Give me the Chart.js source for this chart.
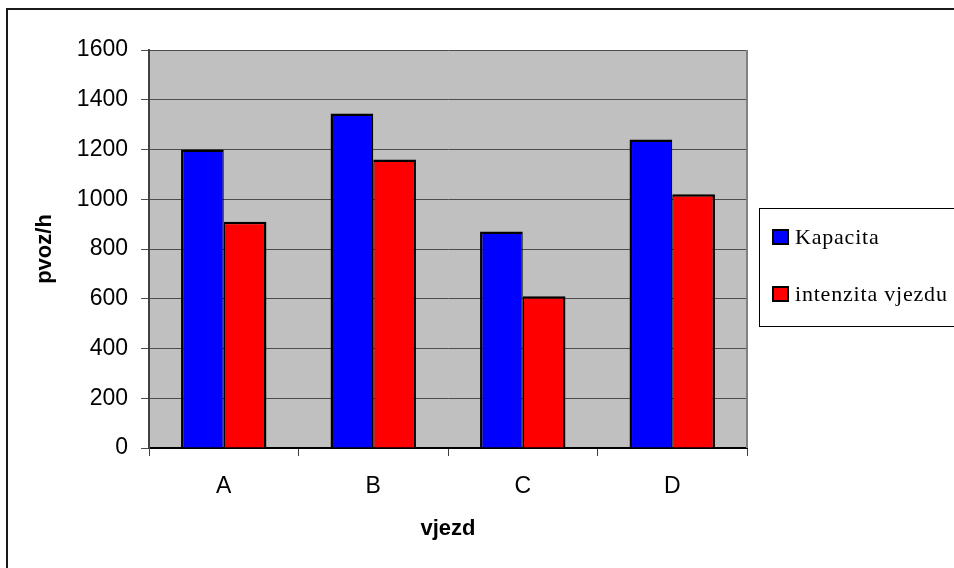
<!DOCTYPE html>
<html>
<head>
<meta charset="utf-8">
<script src="https://cdn.jsdelivr.net/npm/chart.js@4.4.1/dist/chart.umd.min.js"></script>
<style>
  html, body { margin: 0; padding: 0; background: #ffffff; }
  #wrap { width: 954px; height: 568px; position: relative; }
</style>
</head>
<body>
<div id="wrap"><canvas id="c" width="954" height="568"></canvas></div>
<script>
// Entry approaches (vjezd)
const categories = ['A', 'B', 'C', 'D'];
// Capacity per approach, pvoz/h
const kapacita = [1200, 1345, 870, 1240];
// Entry flow intensity per approach, pvoz/h
const intenzita = [910, 1160, 610, 1020];
const seriesNames = ['Kapacita', 'intenzita vjezdu'];
const yTicks = { min: 0, max: 1600, step: 200 };

const tickFont = { family: 'Liberation Sans, Arial, sans-serif', size: 23 };
const titleFont = { family: 'Liberation Sans, Arial, sans-serif', size: 22, weight: 'bold' };

// Gray plot background, plot frame and outer chart border
const framePlugin = {
  id: 'frame',
  beforeDraw(chart) {
    const { ctx, chartArea: a } = chart;
    ctx.save();
    ctx.fillStyle = '#C0C0C0';
    ctx.fillRect(a.left, a.top, a.right - a.left, a.bottom - a.top);
    ctx.restore();
  },
  afterDatasetsDraw(chart) {
    const { ctx, chartArea: a } = chart;
    ctx.save();
    ctx.strokeStyle = '#808080';
    ctx.lineWidth = 2;
    ctx.beginPath();
    ctx.moveTo(a.right, a.top);
    ctx.lineTo(a.right, a.bottom);
    ctx.stroke();
    ctx.restore();
  },
  afterDraw(chart) {
    const { ctx, width, height } = chart;
    ctx.save();
    ctx.strokeStyle = '#1a1a1a';
    ctx.lineWidth = 2;
    ctx.beginPath();
    ctx.moveTo(7, height);
    ctx.lineTo(7, 9);
    ctx.lineTo(width, 9);
    ctx.stroke();
    ctx.restore();
  }
};

// Boxed legend at the right side
const boxLegend = {
  id: 'boxLegend',
  afterDraw(chart) {
    const { ctx } = chart;
    const x0 = 759, y0 = 208, y1 = 326;
    ctx.save();
    ctx.fillStyle = '#ffffff';
    ctx.fillRect(x0, y0, chart.width - x0 + 2, y1 - y0);
    ctx.strokeStyle = '#000000';
    ctx.lineWidth = 1;
    ctx.strokeRect(x0 + 0.5, y0 + 0.5, chart.width - x0 + 4, y1 - y0);
    const rows = [237, 294];
    ctx.font = '22px "Liberation Serif", "Times New Roman", serif';
    if ('letterSpacing' in ctx) ctx.letterSpacing = '0.8px';
    ctx.textBaseline = 'middle';
    chart.data.datasets.forEach((ds, i) => {
      const cy = rows[i];
      ctx.fillStyle = ds.backgroundColor;
      ctx.fillRect(773, cy - 7, 15, 14);
      ctx.strokeStyle = '#000000';
      ctx.lineWidth = 2;
      ctx.strokeRect(773, cy - 7, 15, 14);
      ctx.fillStyle = '#000000';
      ctx.fillText(ds.label, 795, cy + 1);
    });
    ctx.restore();
  }
};

new Chart(document.getElementById('c'), {
  type: 'bar',
  data: {
    labels: categories,
    datasets: [
      { label: seriesNames[0], data: kapacita, backgroundColor: '#0000FF', borderColor: '#000000',
        borderWidth: { top: 2.5, left: 2.5, right: 1.25, bottom: 0 }, borderSkipped: false },
      { label: seriesNames[1], data: intenzita, backgroundColor: '#FF0000', borderColor: '#000000',
        borderWidth: { top: 2.5, left: 1.25, right: 2.5, bottom: 0 }, borderSkipped: false }
    ]
  },
  options: {
    responsive: false,
    animation: false,
    devicePixelRatio: 1,
    layout: { padding: { left: 0, top: 50, right: 207, bottom: 0 } },
    datasets: { bar: { categoryPercentage: 2 / 3.5, barPercentage: 1 } },
    plugins: { legend: { display: false }, tooltip: { enabled: false } },
    scales: {
      x: {
        afterFit(s) { s.height = 120; },
        grid: { display: true, drawOnChartArea: false, drawTicks: true, tickLength: 8, offset: true, color: '#404040', lineWidth: 1 },
        border: { display: true, color: '#000000', width: 2 },
        ticks: { color: '#000000', font: tickFont, padding: 17 },
        title: { display: true, text: 'vjezd', color: '#000000', font: titleFont, padding: { top: 0, bottom: 26 } }
      },
      y: {
        min: yTicks.min,
        max: yTicks.max,
        afterFit(s) { s.width = 149; },
        grid: { color: '#4d4d4d', lineWidth: 1, drawTicks: true, tickLength: 8 },
        border: { display: true, color: '#404040', width: 2 },
        ticks: { stepSize: yTicks.step, color: '#000000', font: tickFont, padding: 13, callback: v => String(v) },
        title: { display: true, text: 'pvoz/h', color: '#000000', font: titleFont, padding: { top: 32, bottom: 0 } }
      }
    }
  },
  plugins: [framePlugin, boxLegend]
});
</script>
</body>
</html>
